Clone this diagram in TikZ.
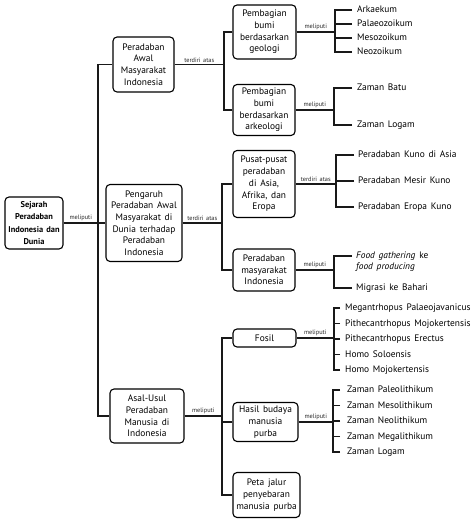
\documentclass[tikz,border=0pt]{standalone}
\usepackage{fontspec}
\setmainfont{PT Sans}[WordSpace=1.5]
\newcommand{\bxfont}{\fontsize{9.4}{11.7}\selectfont}
\newcommand{\rtfont}{\fontsize{8.4}{12.3}\selectfont\bfseries}
\newcommand{\lbfont}{\fontsize{6.3}{7.5}\selectfont}
\begin{document}
\begin{tikzpicture}[x=1pt,y=-1pt,
  ln/.style={line width=1.1pt, black!90},
  bx/.style={draw, line width=1.1pt, rounded corners=4pt, align=center, font=\bxfont, inner sep=1.5pt},
  rootbox/.style={bx, font=\rtfont},
  item/.style={anchor=west, inner sep=0pt, font=\bxfont, text height=7pt, text depth=2pt},
  lbl/.style={above, font=\lbfont, inner sep=1.5pt, text=black!85}]
\useasboundingbox (0,0) rectangle (474,519);
\fill[white] (0,0) rectangle (474,519);

% level 0
\node[rootbox, minimum width=58pt, minimum height=52pt] (root) at (34,223) {Sejarah\\Peradaban\\Indonesia dan\\Dunia};
% level 1
\node[bx, minimum width=61pt, minimum height=55pt] (A) at (143.5,64.5) {Peradaban\\Awal\\Masyarakat\\Indonesia};
\node[bx, minimum width=76pt, minimum height=77pt] (B) at (144,223) {Pengaruh\\Peradaban Awal\\Masyarakat di\\Dunia terhadap\\Peradaban\\Indonesia};
\node[bx, minimum width=74pt, minimum height=54pt] (C) at (147,416) {Asal-Usul\\Peradaban\\Manusia di\\Indonesia};
% level 2
\node[bx, minimum width=63pt, minimum height=54pt] (A1) at (264.5,32) {Pembagian\\bumi\\berdasarkan\\geologi};
\node[bx, minimum width=62pt, minimum height=51pt] (A2) at (264,110) {Pembagian\\bumi\\berdasarkan\\arkeologi};
\node[bx, minimum width=62pt, minimum height=67pt] (B1) at (264,184) {Pusat-pusat\\peradaban\\di Asia,\\Afrika, dan\\Eropa};
\node[bx, minimum width=62pt, minimum height=42pt] (B2) at (264,270) {Peradaban\\masyarakat\\Indonesia};
\node[bx, minimum width=63pt, minimum height=18pt] (C1) at (264.5,338) {Fosil};
\node[bx, minimum width=65pt, minimum height=39pt] (C2) at (265.5,422) {Hasil budaya\\manusia\\purba};
\node[bx, minimum width=67pt, minimum height=45pt] (C3) at (266.5,495) {Peta jalur\\penyebaran\\manusia purba};

% junctions
\coordinate (tj) at (98,223);
\coordinate (aj) at (224,64.5);
\coordinate (bj) at (222,223);
\coordinate (cj) at (222,416);
\coordinate (a1j) at (335,32);
\coordinate (a2j) at (334,110);
\coordinate (b1j) at (336,184);
\coordinate (b2j) at (334,270);
\coordinate (c1j) at (334,338);
\coordinate (c2j) at (333,422);

% items
\node[item] (i11) at (357,10) {Arkaekum};
\node[item] (i12) at (357,24) {Palaeozoikum};
\node[item] (i13) at (357,38) {Mesozoikum};
\node[item] (i14) at (357,52) {Neozoikum};
\node[item] (i21) at (357,88) {Zaman Batu};
\node[item] (i22) at (357,125) {Zaman Logam};
\node[item] (i31) at (358,155) {Peradaban Kuno di Asia};
\node[item] (i32) at (358,181) {Peradaban Mesir Kuno};
\node[item] (i33) at (358,207) {Peradaban Eropa Kuno};
\node[item] (i41) at (356,256) {\textit{Food gathering} ke};
\node[item] (i41b) at (356,267) {\textit{food producing}};
\node[item] (i42) at (356,288) {Migrasi ke Bahari};
\node[item] (i51) at (345,308) {Megantrhopus Palaeojavanicus};
\node[item] (i52) at (345,323.5) {Pithecantrhopus Mojokertensis};
\node[item] (i53) at (345,339) {Pithecantrhopus Erectus};
\node[item] (i54) at (345,354.5) {Homo Soloensis};
\node[item] (i55) at (345,370) {Homo Mojokertensis};
\node[item] (i61) at (347,390) {Zaman Paleolithikum};
\node[item] (i62) at (347,405.5) {Zaman Mesolithikum};
\node[item] (i63) at (347,421) {Zaman Neolithikum};
\node[item] (i64) at (347,436.5) {Zaman Megalithikum};
\node[item] (i65) at (347,452) {Zaman Logam};

% connectors level 0-1
\draw[ln] (root.east) -- node[lbl]{meliputi} (tj) -- (B.west);
\draw[ln] (A.west) -| (tj);
\draw[ln] (C.west) -| (tj);
% level 1-2
\draw[ln] (A.east) -- node[lbl]{terdiri atas} (aj);
\draw[ln] (A1.west) -| (aj);
\draw[ln] (A2.west) -| (aj);
\draw[ln] (B.east) -- node[lbl]{terdiri atas} (bj);
\draw[ln] (B1.west) -| (bj);
\draw[ln] (B2.west) -| (bj);
\draw[ln] (C.east) -- node[lbl]{meliputi} (cj);
\draw[ln] (C1.west) -| (cj);
\draw[ln] (C2.west) -| (cj);
\draw[ln] (C3.west) -| (cj);
% level 2-items
\draw[ln] (A1.east) -- node[lbl]{meliputi} (a1j);
\foreach \i in {i11,i12,i13,i14} \draw[ln, shorten <=5pt] (\i.west) -| (a1j);
\draw[ln] (A2.east) -- node[lbl]{meliputi} (a2j);
\foreach \i in {i21,i22} \draw[ln, shorten <=5pt] (\i.west) -| (a2j);
\draw[ln] (B1.east) -- node[lbl]{terdiri atas} (b1j);
\foreach \i in {i31,i32,i33} \draw[ln, shorten <=4pt] (\i.west) -| (b1j);
\draw[ln] (B2.east) -- node[lbl]{meliputi} (b2j);
\foreach \i in {i41,i42} \draw[ln, shorten <=4pt] (\i.west) -| (b2j);
\draw[ln] (C1.east) -- node[lbl]{meliputi} (c1j);
\foreach \i in {i51,i52,i53,i54,i55} \draw[ln, shorten <=5pt] (\i.west) -| (c1j);
\draw[ln] (C2.east) -- node[lbl]{meliputi} (c2j);
\foreach \i in {i61,i62,i63,i64,i65} \draw[ln, shorten <=7pt] (\i.west) -| (c2j);
\end{tikzpicture}
\end{document}
